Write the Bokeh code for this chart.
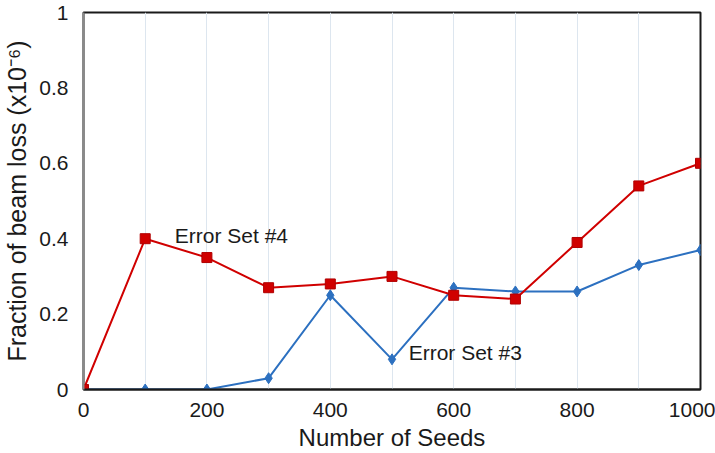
from bokeh.plotting import figure
from bokeh.models import Range1d, FixedTicker, SingleIntervalTicker, Label
from bokeh.embed import file_html
from bokeh.resources import INLINE

seeds = [0, 100, 200, 300, 400, 500, 600, 700, 800, 900, 1000]
error_set_4 = [0.0, 0.40, 0.35, 0.27, 0.28, 0.30, 0.25, 0.24, 0.39, 0.54, 0.60]
error_set_3 = [0.0, 0.0, 0.0, 0.03, 0.25, 0.08, 0.27, 0.26, 0.26, 0.33, 0.37]
x_ticks = [0, 200, 400, 600, 800, 1000]
y_ticks = [0, 0.2, 0.4, 0.6, 0.8, 1]
y_tick_labels = {0: "0", 0.2: "0.2", 0.4: "0.4", 0.6: "0.6", 0.8: "0.8", 1: "1"}

FONT = "Liberation Sans"
RED = "#d00000"
BLUE = "#2c70c0"

p = figure(width=715, height=453, output_backend="svg", toolbar_location=None,
           x_range=Range1d(0, 1000), y_range=Range1d(0, 1),
           min_border_left=83, min_border_right=15, min_border_top=12, min_border_bottom=61)

p.background_fill_color = "white"
p.border_fill_color = "white"
p.outline_line_color = "#1a1a1a"
p.outline_line_width = 2

p.xaxis.ticker = FixedTicker(ticks=x_ticks)
p.yaxis.ticker = FixedTicker(ticks=y_ticks)
p.yaxis.major_label_overrides = y_tick_labels

for ax in (p.xaxis[0], p.yaxis[0]):
    ax.major_tick_line_color = None
    ax.minor_tick_line_color = None
    ax.major_label_text_font = FONT
    ax.major_label_text_font_size = "21px"
    ax.major_label_text_color = "#1a1a1a"
    ax.axis_label_text_font = FONT
    ax.axis_label_text_font_style = "normal"
    ax.axis_label_text_color = "#1a1a1a"

p.xaxis.axis_line_color = "#1a1a1a"
p.xaxis.axis_line_width = 2
p.yaxis.axis_line_color = "#8a8a8a"
p.yaxis.axis_line_width = 2

p.xaxis.axis_label = "Number of Seeds"
p.xaxis.axis_label_text_font_size = "24px"
p.xaxis.major_label_standoff = 7
p.xaxis.axis_label_standoff = 4

p.yaxis.axis_label = "Fraction of beam loss (x10\u207b\u2076)"
p.yaxis.axis_label_text_font_size = "25px"
p.yaxis.major_label_standoff = 9
p.yaxis.axis_label_standoff = 5

p.ygrid.grid_line_color = None
p.xgrid.ticker = SingleIntervalTicker(interval=100)
p.xgrid.grid_line_color = "#dde6ef"
p.xgrid.grid_line_width = 1

p.line(seeds, error_set_3, line_color=BLUE, line_width=2)
p.scatter(seeds, error_set_3, marker="diamond", size=11, fill_color=BLUE, line_color=BLUE)

p.line(seeds, error_set_4, line_color=RED, line_width=2)
p.scatter(seeds, error_set_4, marker="square", size=10, fill_color=RED, line_color="#b00000")

p.add_layout(Label(x=148, y=0.408, text="Error Set #4", text_font=FONT,
                   text_font_size="21px", text_color="#1a1a1a", text_baseline="middle"))
p.add_layout(Label(x=527, y=0.097, text="Error Set #3", text_font=FONT,
                   text_font_size="21px", text_color="#1a1a1a", text_baseline="middle"))

open("out.html", "w").write(file_html(p, INLINE))
